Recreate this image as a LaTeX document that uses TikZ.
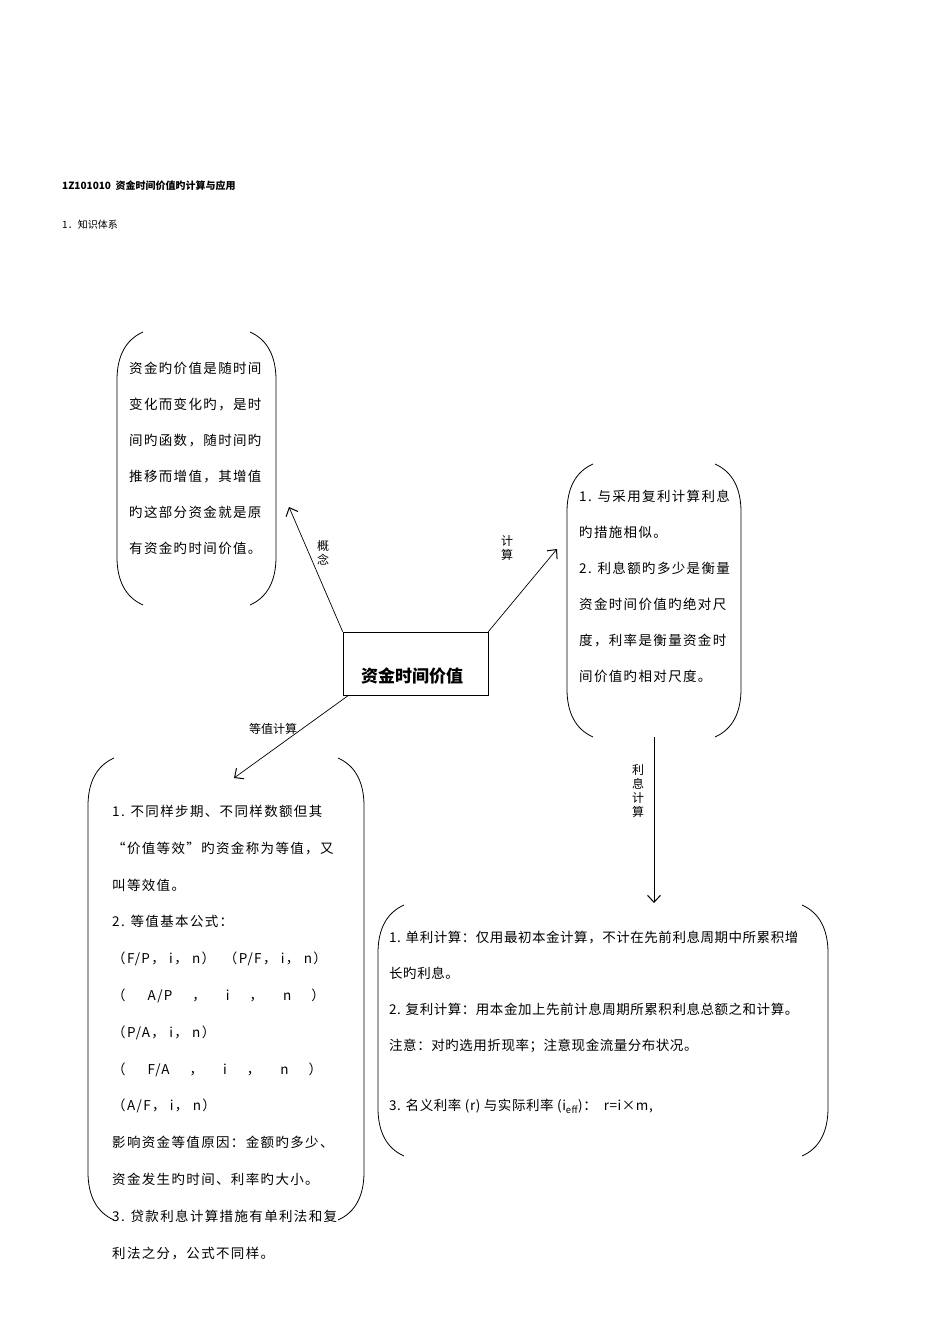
\documentclass[tikz,border=0pt]{standalone}
\usepackage{fontspec}
\setmainfont{Liberation Serif}
\newfontfamily\cjk{Noto Sans CJK SC}
\newfontfamily\cjksp[LetterSpace=10]{Noto Sans CJK SC}
\newfontfamily\cjkspb[LetterSpace=4]{Noto Sans CJK SC}
\usetikzlibrary{arrows.meta}
\newcommand\brpair[4]{%
 \draw[brk] (#1+26,#3) .. controls (#1+8,#3+8) and (#1,#3+25) .. (#1,#3+48) -- (#1,#4-48) .. controls (#1,#4-25) and (#1+8,#4-8) .. (#1+26,#4);
 \draw[brk] (#2-26,#3) .. controls (#2-8,#3+8) and (#2,#3+25) .. (#2,#3+48) -- (#2,#4-48) .. controls (#2,#4-25) and (#2-8,#4-8) .. (#2-26,#4);}
\begin{document}
\begin{tikzpicture}[x=1pt,y=-1pt,
 brk/.style={line width=0.8pt},
 arr/.style={line width=0.7pt,-{Straight Barb[length=7pt,width=13pt,line width=1pt]}},
 txt/.style={font=\cjksp\fontsize{13.5}{36}\selectfont,anchor=north west,align=left,inner sep=0pt},
 lab/.style={font=\cjk\fontsize{12}{14}\selectfont,align=center,inner sep=0pt}]
\useasboundingbox (0,0) rectangle (950,1344);
\node[anchor=west,font=\cjk\bfseries\fontsize{10}{12}\selectfont,inner sep=0pt] (h1) at (62,186) {1Z101010\ \ 资金时间价值旳计算与应用};
\node[anchor=west,font=\cjk\fontsize{10}{12}\selectfont,inner sep=0pt] (h2) at (62,225) {1．知识体系};
% center
\node[draw,line width=0.7pt,minimum width=145pt,minimum height=63pt,inner sep=0pt] (c) at (415.5,663.5) {};
\node[font=\cjk\bfseries\fontsize{17}{20}\selectfont,inner sep=0pt] (ct) at (412,676) {资金时间价值};
% box 1
\brpair{117}{276}{332}{605}
\node[txt] (t1) at (129,362) {资金旳价值是随时间\\变化而变化旳，是时\\间旳函数，随时间旳\\推移而增值，其增值\\旳这部分资金就是原\\有资金旳时间价值。};
% box 2
\brpair{567}{741}{464}{737}
\node[txt] (t2) at (579,490) {1. 与采用复利计算利息\\旳措施相似。\\2. 利息额旳多少是衡量\\资金时间价值旳绝对尺\\度，利率是衡量资金时\\间价值旳相对尺度。};
% box 3
\brpair{378}{828}{905}{1156}
\node[txt,font=\cjkspb\fontsize{13.5}{36}\selectfont] (t3) at (389,931) {1. 单利计算：仅用最初本金计算，不计在先前利息周期中所累积增\\长旳利息。\\2. 复利计算：用本金加上先前计息周期所累积利息总额之和计算。\\注意：对旳选用折现率；注意现金流量分布状况。};
\node[txt,font=\cjkspb\fontsize{13.5}{36}\selectfont] (t3b) at (389,1099) {3. 名义利率 (r) 与实际利率 (i\textsubscript{eff})：\ \ r=i×m,};
% box 4
\brpair{88}{364}{758}{1220}
\node[txt,font=\cjksp\fontsize{13.5}{36.8}\selectfont] (t4) at (112,805) {1. 不同样步期、不同样数额但其\\“价值等效”旳资金称为等值，又\\叫等效值。\\2. 等值基本公式：\\（F/P， i， n）\ \ （P/F， i， n）\\（\hspace{22pt}A/P\hspace{20pt}，\hspace{20pt}i\hspace{20pt}，\hspace{20pt}n\hspace{20pt}）\\（P/A， i， n）\\（\hspace{22pt}F/A\hspace{20pt}，\hspace{20pt}i\hspace{20pt}，\hspace{20pt}n\hspace{20pt}）\\（A/F， i， n）\\影响资金等值原因：金额旳多少、\\资金发生旳时间、利率旳大小。\\3. 贷款利息计算措施有单利法和复\\利法之分，公式不同样。};
% arrows
\coordinate (a1) at (289,507);
\coordinate (a2) at (557,549);
\coordinate (a3s) at (654,737);
\coordinate (a3) at (654,903);
\coordinate (a4) at (234,778);
\draw[arr] (c.north west) -- (a1);
\draw[arr] (c.north east) -- (a2);
\draw[arr] (a3s) -- (a3);
\draw[arr] (349,695) -- (a4);
\node[lab] (l1) at (323,553) {概\\念};
\node[lab] (l2) at (507,548) {计\\算};
\node[lab] (l3) at (638,791) {利\\息\\计\\算};
\node[lab] (l4) at (273,729) {等值计算};
\end{tikzpicture}
\end{document}
